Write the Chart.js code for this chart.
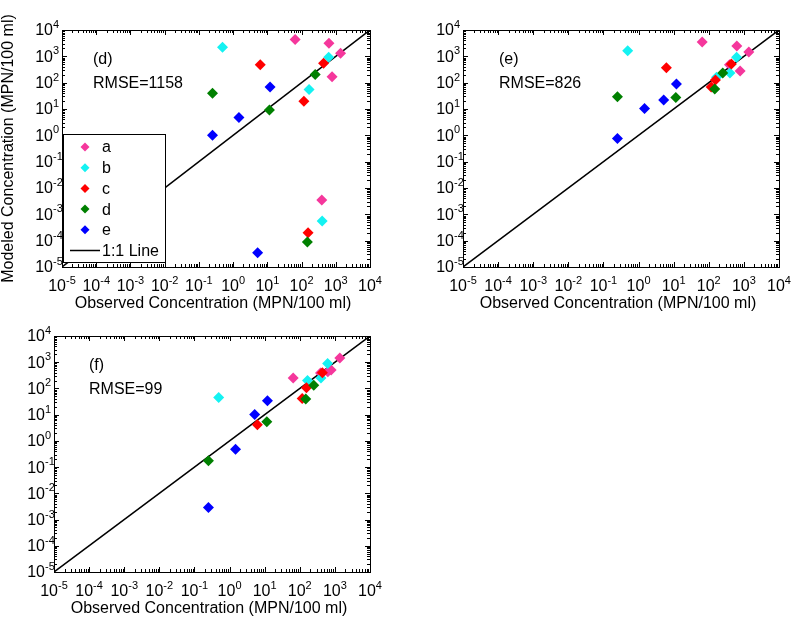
<!DOCTYPE html>
<html>
<head>
<meta charset="utf-8">
<script src="https://cdn.jsdelivr.net/npm/chart.js@4.4.0/dist/chart.umd.min.js"></script>
<style>
  html, body { margin: 0; padding: 0; background: #fff; }
  #wrap { position: relative; width: 800px; height: 625px; background: #fff; overflow: hidden; }
  #wrap canvas { position: absolute; }
</style>
</head>
<body>
<div id="wrap">
  <canvas id="panelD" width="400" height="320" style="left:0;top:0"></canvas>
  <canvas id="panelE" width="400" height="320" style="left:400px;top:0"></canvas>
  <canvas id="panelF" width="400" height="320" style="left:0;top:305px"></canvas>
</div>
<script>
/* ---------- DATA ---------- */
const siteNames = ['a', 'b', 'c', 'd', 'e'];
const siteColors = ['#f5379c', '#14f2f2', '#ff0000', '#008000', '#0000ff'];

// observed concentrations (MPN/100 ml), same in every panel
const obsA = [65, 630, 1380, 780, 390];
const obsB = [0.49, 620, 166, 400];
const obsC = [6.2, 440, 117, 155];
const obsD = [250, 0.25, 11.5, 148];
const obsE = [12, 1.48, 0.25, 5.2];

// modeled concentrations, panel (d)
const panelD_A = [4400, 3160, 1320, 166, 0.0035];
const panelD_B = [2190, 930, 55, 0.00056];
const panelD_C = [480, 550, 19.5, 0.0002];
const panelD_D = [204, 40, 9.1, 0.000089];
const panelD_E = [68, 4.8, 1.0, 0.000035];

// modeled concentrations, panel (e)
const panelE_A = [3470, 2450, 1450, 275, 480];
const panelE_B = [1620, 930, 162, 234];
const panelE_C = [370, 510, 68, 126];
const panelE_D = [234, 29.5, 27.5, 57.5];
const panelE_E = [89, 10.5, 0.76, 22];

// modeled concentrations, panel (f)
const panelF_A = [250, 430, 1450, 500, 390];
const panelF_B = [45, 890, 200, 250];
const panelF_C = [4.1, 400, 41, 107];
const panelF_D = [132, 0.174, 5.4, 40];
const panelF_E = [34, 0.48, 0.0029, 10.2];

const lineEnds = [1e-5, 1e4];
const tickExps = ['-5', '-4', '-3', '-2', '-1', '0', '1', '2', '3', '4'];
const panelTags = ['(d)', '(e)', '(f)'];
const rmseTexts = ['RMSE=1158', 'RMSE=826', 'RMSE=99'];
const xTitle = 'Observed Concentration (MPN/100 ml)';
const yTitle = 'Modeled Concentration (MPN/100 ml)';

const observed = [obsA, obsB, obsC, obsD, obsE];

/* ---------- DRAWING HELPERS ---------- */
const FONT = '"Liberation Sans", Arial, Helvetica, sans-serif';

function drawPow(ctx, exp, x0, yMid, mode) {
  ctx.font = '16px ' + FONT;
  const w10 = ctx.measureText('10').width;
  ctx.font = '11px ' + FONT;
  const wE = ctx.measureText(exp).width;
  const start = mode === 'center' ? x0 - (w10 + wE) / 2 : x0 - w10;
  ctx.textAlign = 'left';
  ctx.textBaseline = 'middle';
  ctx.font = '16px ' + FONT;
  ctx.fillText('10', start, yMid);
  ctx.font = '11px ' + FONT;
  ctx.fillText(exp, start + w10, yMid - 6);
}

function diamond(ctx, cx, cy, r, color) {
  ctx.fillStyle = color;
  ctx.beginPath();
  ctx.moveTo(cx, cy - r);
  ctx.lineTo(cx + r, cy);
  ctx.lineTo(cx, cy + r);
  ctx.lineTo(cx - r, cy);
  ctx.closePath();
  ctx.fill();
}

const panelDecor = {
  id: 'panelDecor',
  beforeDatasetsDraw(chart) {
    const { ctx, chartArea: a, scales: { x, y } } = chart;
    ctx.save();
    ctx.strokeStyle = '#000';
    ctx.lineWidth = 1;
    ctx.beginPath();
    tickExps.forEach((e, k) => {
      for (let m = 1; m <= 9; m++) {
        if (k === tickExps.length - 1 && m > 1) break;
        const v = m * Math.pow(10, +e);
        const len = m === 1 ? 5 : 3;
        const px = Math.round(x.getPixelForValue(v)) + 0.5;
        const py = Math.round(y.getPixelForValue(v)) + 0.5;
        ctx.moveTo(px, a.bottom); ctx.lineTo(px, a.bottom - len);
        ctx.moveTo(px, a.top); ctx.lineTo(px, a.top + len);
        ctx.moveTo(a.left, py); ctx.lineTo(a.left + len, py);
        ctx.moveTo(a.right, py); ctx.lineTo(a.right - len, py);
      }
    });
    ctx.stroke();
    ctx.restore();
  },
  afterDatasetsDraw(chart, args, opts) {
    const { ctx, chartArea: a, scales: { x, y } } = chart;
    ctx.save();
    // axes box
    ctx.strokeStyle = '#000';
    ctx.lineWidth = 1;
    ctx.strokeRect(Math.round(a.left) + 0.5, Math.round(a.top) + 0.5,
      Math.round(a.right - a.left), Math.round(a.bottom - a.top));

    // tick labels
    ctx.fillStyle = '#000';
    tickExps.forEach(e => {
      const v = Math.pow(10, +e);
      drawPow(ctx, e, x.getPixelForValue(v), a.bottom + 20, 'center');
      drawPow(ctx, e, a.left - 9, y.getPixelForValue(v) + 1, 'right');
    });

    // axis titles
    ctx.font = '16px ' + FONT;
    ctx.textAlign = 'center';
    ctx.textBaseline = 'middle';
    ctx.fillText(xTitle, (a.left + a.right) / 2 - 3, a.bottom + 37);
    if (opts.showYTitle) {
      ctx.save();
      ctx.translate(9, (a.top + a.bottom) / 2);
      ctx.rotate(-Math.PI / 2);
      ctx.fillText(yTitle, 0, 0);
      ctx.restore();
    }

    // panel tag and RMSE
    ctx.textAlign = 'left';
    ctx.fillText(opts.tag, a.left + opts.textOffset, a.top + 29.5);
    ctx.fillText(opts.rmse, a.left + opts.textOffset, a.top + 53.5);

    // legend
    if (opts.showLegend) {
      const lx = a.left + 1, ly = 134, lw = 102, lh = 128;
      ctx.fillStyle = '#fff';
      ctx.fillRect(lx, ly, lw, lh);
      ctx.strokeStyle = '#000';
      ctx.strokeRect(lx + 0.5, ly + 0.5, lw, lh);
      const items = chart.data.datasets;
      items.forEach((ds, i) => {
        const cy = ly + 13 + i * 20.7;
        if (ds.showLine) {
          ctx.strokeStyle = '#000';
          ctx.lineWidth = 1.5;
          ctx.beginPath();
          ctx.moveTo(lx + 7, cy);
          ctx.lineTo(lx + 37, cy);
          ctx.stroke();
        } else {
          diamond(ctx, lx + 22, cy, 4.5, ds.backgroundColor);
        }
        ctx.fillStyle = '#000';
        ctx.font = '16px ' + FONT;
        ctx.textBaseline = 'middle';
        ctx.fillText(ds.label, lx + 39, cy + 1);
      });
    }
    ctx.restore();
  }
};

/* ---------- CHARTS ---------- */
function makePanel(canvasId, mods, padding, decor) {
  const datasets = siteNames.map((name, i) => ({
    label: name,
    data: observed[i].map((v, j) => ({ x: v, y: mods[i][j] })),
    backgroundColor: siteColors[i],
    borderColor: siteColors[i],
    borderWidth: 0,
    pointStyle: 'rectRot',
    pointRadius: 5.5,
    showLine: false,
    order: 10 - i
  }));
  datasets.push({
    label: '1:1 Line',
    data: lineEnds.map(v => ({ x: v, y: v })),
    borderColor: '#000',
    backgroundColor: '#000',
    borderWidth: 1.5,
    pointRadius: 0,
    showLine: true,
    order: 20
  });

  return new Chart(document.getElementById(canvasId), {
    type: 'scatter',
    data: { datasets },
    options: {
      responsive: false,
      animation: false,
      events: [],
      layout: { padding },
      scales: {
        x: { type: 'logarithmic', min: 1e-5, max: 1e4, display: false },
        y: { type: 'logarithmic', min: 1e-5, max: 1e4, display: false }
      },
      plugins: {
        legend: { display: false },
        tooltip: { enabled: false },
        panelDecor: decor
      }
    },
    plugins: [panelDecor]
  });
}

makePanel('panelD', [panelD_A, panelD_B, panelD_C, panelD_D, panelD_E],
  { left: 62, top: 30, right: 30, bottom: 53 },
  { tag: panelTags[0], rmse: rmseTexts[0], textOffset: 31, showYTitle: true, showLegend: true });

makePanel('panelE', [panelE_A, panelE_B, panelE_C, panelE_D, panelE_E],
  { left: 63, top: 30, right: 21, bottom: 53 },
  { tag: panelTags[1], rmse: rmseTexts[1], textOffset: 36, showYTitle: false, showLegend: false });

makePanel('panelF', [panelF_A, panelF_B, panelF_C, panelF_D, panelF_E],
  { left: 54, top: 31, right: 30, bottom: 53 },
  { tag: panelTags[2], rmse: rmseTexts[2], textOffset: 35, showYTitle: false, showLegend: false });
</script>
</body>
</html>
